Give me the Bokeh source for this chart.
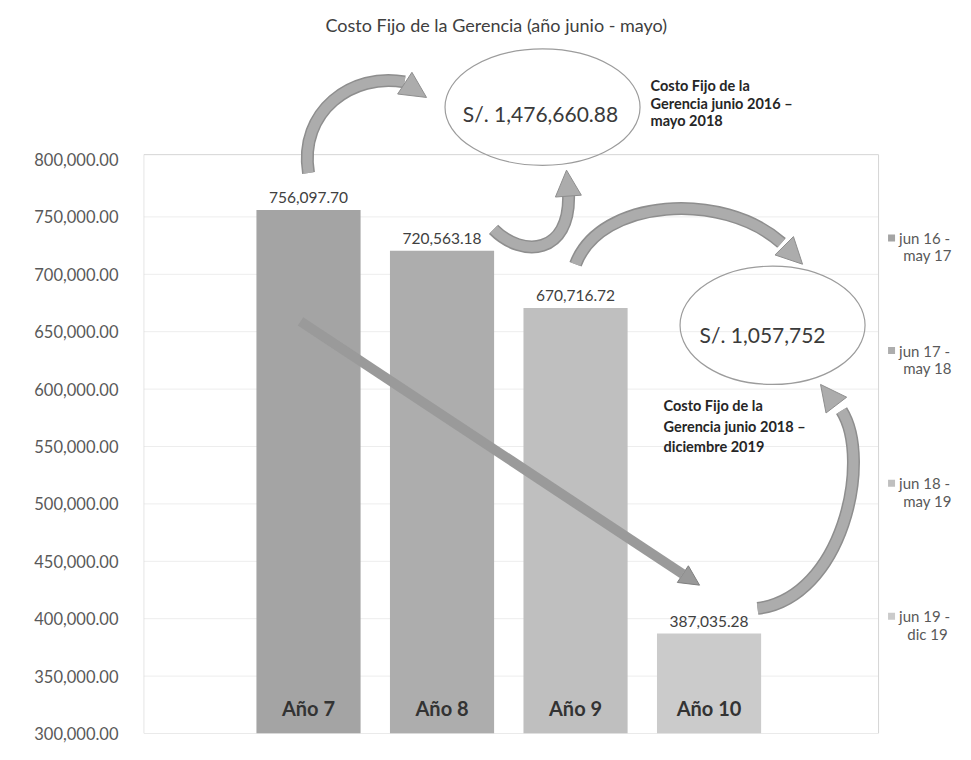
from bokeh.plotting import figure
from bokeh.models import FixedTicker, NumeralTickFormatter, Arrow, NormalHead, Range1d
from bokeh.embed import file_html
from bokeh.resources import INLINE
from bokeh.core.properties import value

# ---- data ----
categories = ["Año 7", "Año 8", "Año 9", "Año 10"]
costs = [756097.70, 720563.18, 670716.72, 387035.28]
legend_top = ["jun 16 -", "jun 17 -", "jun 18 -", "jun 19 -"]
legend_bottom = ["may 17", "may 18", "may 19", "dic 19"]
bar_colors = ["#a4a4a4", "#adadad", "#bfbfbf", "#cbcbcb"]
y_ticks = [300000, 350000, 400000, 450000, 500000, 550000,
           600000, 650000, 700000, 750000, 800000]
title_text = "Costo Fijo de la Gerencia (año junio - mayo)"
note1 = ["Costo Fijo de la", "Gerencia junio 2016 \u2013", "mayo 2018"]
note2 = ["Costo Fijo de la", "Gerencia junio 2018 \u2013", "diciembre 2019"]

total1 = costs[0] + costs[1]
total2 = costs[2] + costs[3]
total1_label = f"S/. {total1:,.2f}"
total2_label = f"S/. {total2:,.0f}"
value_labels = [f"{v:,.2f}" for v in costs]
xs = list(range(1, len(categories) + 1))

FONT = value("Lato")
X0, X1 = -0.236, 5.831
Y0 = 300000
FRAME_TOP, FRAME_BOTTOM = 40, 733
Y1 = Y0 + (FRAME_BOTTOM - FRAME_TOP) / 1.148 * 1000

# helpers: position in the reference picture -> data (decorations only)
def X(px):
    return X0 + (px - 143) / 133.5

def Y(py):
    return Y0 + (752 - py) / 1.184 * 1000

p = figure(width=955, height=744, output_backend="svg", toolbar_location=None,
           x_range=Range1d(X0, X1), y_range=Range1d(Y0, Y1),
           min_border_left=143, min_border_right=2, min_border_top=FRAME_TOP,
           min_border_bottom=744 - FRAME_BOTTOM, outline_line_color=None)

p.title.text = title_text
p.title.align = "left"
p.title.offset = 182
p.title.text_font = "Lato"
p.title.text_font_size = "18px"
p.title.text_font_style = "normal"
p.title.text_color = "#404040"

p.xaxis.visible = False
p.xgrid.visible = False
p.ygrid.visible = False
yax = p.yaxis[0]
yax.ticker = FixedTicker(ticks=y_ticks)
yax.formatter = NumeralTickFormatter(format="0,0.00")
yax.axis_line_color = None
yax.major_tick_line_color = None
yax.minor_tick_line_color = None
yax.major_tick_out = 0
yax.major_label_standoff = 25
yax.major_label_text_font = "Lato"
yax.major_label_text_font_size = "16.5px"
yax.major_label_text_color = "#595959"

# plot-area box and light gridlines
box_left, box_right, box_top = X0 + 0.002, X(878), Y(155)
inner = y_ticks[1:-1]
p.segment(x0=[box_left] * len(inner), x1=[box_right] * len(inner),
          y0=inner, y1=inner, line_color="#ededed", line_width=1)
p.quad(left=[box_left], right=[box_right], bottom=[Y0], top=[box_top],
       fill_color=None, line_color="#d6d6d6", line_width=1)

# bars
p.vbar(x=xs, top=costs, bottom=Y0, width=0.78, fill_color=bar_colors,
       line_color=None)

p.text(x=xs, y=costs, text=value_labels, text_font=FONT,
       text_font_size="15.5px", text_color="#404040", text_align="center",
       text_baseline="bottom", y_offset=-7)
p.text(x=xs, y=[Y0] * len(xs), text=categories, text_font=FONT,
       text_font_size="20px", text_font_style="bold", text_color="#333333",
       text_align="center", text_baseline="middle", y_offset=-26)

# curved arrows
ARROW_DARK = "#8e8e8e"
ARROW_FILL = "#acacac"
curves = [
    ((308, 174), (298, 110), (352, 70), (404, 80)),
    ((493, 232), (522, 262), (570, 258), (568, 196)),
    ((575, 268), (600, 200), (722, 192), (781, 246)),
    ((757, 623), (842, 612), (872, 470), (841, 419)),
]
heads = [
    ((398, 77), (426, 96)),
    ((568, 200), (566, 171)),
    ((776, 241), (802, 268)),
    ((843, 423), (820, 392)),
]
for lw, col in ((13, ARROW_DARK), (10, ARROW_FILL)):
    p.bezier(x0=[X(c[0][0]) for c in curves], y0=[Y(c[0][1]) for c in curves],
             cx0=[X(c[1][0]) for c in curves], cy0=[Y(c[1][1]) for c in curves],
             cx1=[X(c[2][0]) for c in curves], cy1=[Y(c[2][1]) for c in curves],
             x1=[X(c[3][0]) for c in curves], y1=[Y(c[3][1]) for c in curves],
             line_width=lw, line_color=col)
for (s, e) in heads:
    p.add_layout(Arrow(end=NormalHead(size=26, fill_color=ARROW_FILL,
                                      line_color=ARROW_DARK, line_width=1),
                       x_start=X(s[0]), y_start=Y(s[1]),
                       x_end=X(e[0]), y_end=Y(e[1]),
                       line_alpha=0, line_width=0))

# straight trend arrow
p.add_layout(Arrow(end=NormalHead(size=20, fill_color="#999999",
                                  line_color="#7f7f7f", line_width=1),
                   x_start=X(300), y_start=Y(327), x_end=X(699), y_end=Y(599),
                   line_width=10, line_color="#9a9a9a"))

# ellipses with totals
p.ellipse(x=[X(542), X(772)], y=[Y(106), Y(331)],
          width=[195 / 133.5, 185 / 133.5],
          height=[120 / 1.184 * 1000, 122 / 1.184 * 1000],
          fill_color=None, line_color="#9c9c9c", line_width=1.2)
p.text(x=[X(540), X(762)], y=[Y(113), Y(340)], text=[total1_label, total2_label],
       text_font=FONT, text_font_size="21px", text_color="#3a3a3a",
       text_align="center", text_baseline="middle")

# side notes
p.text(x=[X(650)] * 3, y=[Y(84), Y(102), Y(120)], text=note1, text_font=FONT,
       text_font_size="14.5px", text_font_style="bold", text_color="#262626",
       text_align="left", text_baseline="middle")
p.text(x=[X(663)] * 3, y=[Y(414), Y(435), Y(456)], text=note2, text_font=FONT,
       text_font_size="14.5px", text_font_style="bold", text_color="#262626",
       text_align="left", text_baseline="middle")

# legend (right side)
leg_y = [241, 357, 494, 631]
p.scatter(x=[X(891)] * 4, y=[Y(v) for v in leg_y], marker="square", size=7,
          fill_color=bar_colors, line_color=None)
p.text(x=[X(924)] * 4, y=[Y(v) for v in leg_y], text=legend_top, text_font=FONT,
       text_font_size="15px", text_color="#595959", text_align="center",
       text_baseline="middle")
p.text(x=[X(927)] * 4, y=[Y(v + 18) for v in leg_y], text=legend_bottom,
       text_font=FONT, text_font_size="15px", text_color="#595959",
       text_align="center", text_baseline="middle")

open("out.html", "w").write(file_html(p, INLINE))
